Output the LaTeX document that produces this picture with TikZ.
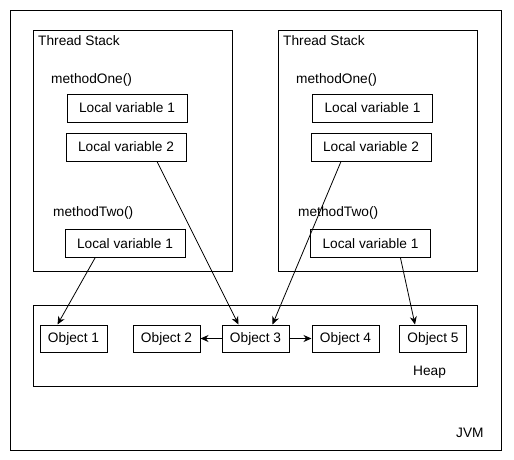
\documentclass[tikz,border=0pt]{standalone}
\usepackage{fontspec}
\setmainfont{Liberation Sans}
\usetikzlibrary{arrows.meta}

\tikzset{
  frame/.style={draw, line width=1pt, anchor=north west, inner sep=0pt},
  varbox/.style={draw, line width=1pt, minimum width=120pt, minimum height=28pt, inner sep=0pt},
  objbox/.style={draw, line width=1pt, minimum width=67pt, minimum height=27pt, inner sep=0pt},
  tag/.style={anchor=west, inner sep=0pt},
  ref/.style={-{Stealth[length=8pt,width=7pt]}, line width=0.8pt},
}

\begin{document}
\begin{tikzpicture}[x=1pt,y=-1pt,font=\fontsize{13.7}{16}\selectfont]
        \useasboundingbox (0,0) rectangle (514,460);
        % Frames
        \node[frame, minimum width=491pt, minimum height=440pt] (jvm)   at (10,10)  {};
        \node[frame, minimum width=199pt, minimum height=241pt] (stackA) at (33,30)  {};
        \node[frame, minimum width=199pt, minimum height=241pt] (stackB) at (278,30) {};
        \node[frame, minimum width=444pt, minimum height=81pt]  (heap)  at (33,305) {};

        % Labels
        \node[tag] (tsA)  at (38,41)  {Thread Stack};
        \node[tag] (m1A)  at (51,80)  {methodOne()};
        \node[tag] (m2A)  at (53,213) {methodTwo()};
        \node[tag] (tsB)  at (283,41) {Thread Stack};
        \node[tag] (m1B)  at (296,80) {methodOne()};
        \node[tag] (m2B)  at (298,213) {methodTwo()};
        \node[tag] (heapl) at (413,372) {Heap};
        \node[tag] (jvml) at (456,433) {JVM};

        % Local variables
        \node[varbox] (a1) at (127,108)   {Local variable 1};
        \node[varbox] (a2) at (126,147)   {Local variable 2};
        \node[varbox] (a3) at (125,243.5) {Local variable 1};
        \node[varbox] (b1) at (372.5,108) {Local variable 1};
        \node[varbox] (b2) at (371,147)   {Local variable 2};
        \node[varbox] (b3) at (370.5,243.5) {Local variable 1};

        % Objects
        \node[objbox] (o1) at (73.5,338.5)  {Object 1};
        \node[objbox] (o2) at (166.5,338.5) {Object 2};
        \node[objbox] (o3) at (255.5,338.5) {Object 3};
        \node[objbox] (o4) at (345.5,338.5) {Object 4};
        \node[objbox] (o5) at (433,338.5)   {Object 5};

        % References
        \draw[ref] ([xshift=-30pt]a3.south) -- ([xshift=-16pt]o1.north);
        \draw[ref] ([xshift=31pt]a2.south)  -- ([xshift=-17pt]o3.north);
        \draw[ref] ([xshift=-30pt]b2.south) -- ([xshift=17pt]o3.north);
        \draw[ref] ([xshift=30pt]b3.south)  -- ([xshift=-18pt]o5.north);
        \draw[ref] (o3.west) -- (o2.east);
        \draw[ref] (o3.east) -- (o4.west);
    \end{tikzpicture}
\end{document}
